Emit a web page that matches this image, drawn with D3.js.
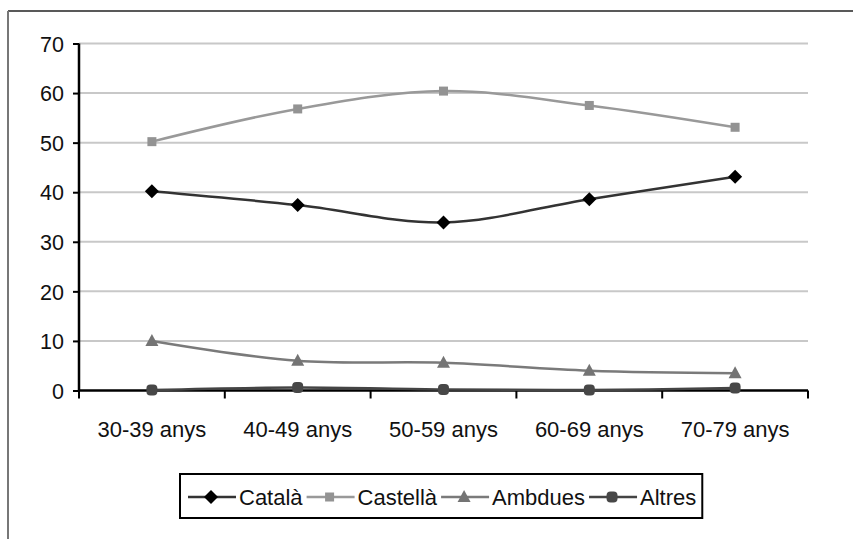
<!DOCTYPE html>
<html>
<head>
<meta charset="utf-8">
<script src="https://cdn.jsdelivr.net/npm/d3@7"></script>
<style>
  body { margin: 0; background: #fff; }
  svg text { font-family: "Liberation Sans", Arial, sans-serif; fill: #111; }
</style>
</head>
<body>
<svg id="chart" width="853" height="539"></svg>
<script>
// ── Data ──────────────────────────────────────────────────────────────────────
const categories = ['30-39 anys', '40-49 anys', '50-59 anys', '60-69 anys', '70-79 anys'];
const catala   = [40.2, 37.4, 33.9, 38.6, 43.1];
const castella = [50.2, 56.8, 60.4, 57.5, 53.1];
const ambdues  = [10.0, 6.0, 5.6, 4.0, 3.5];
const altres   = [0.1, 0.6, 0.2, 0.1, 0.5];
const yTicks   = [0, 10, 20, 30, 40, 50, 60, 70];

const series = [
  { name: 'Català',   values: catala,   line: '#333', fill: '#000', shape: 'diamond' },
  { name: 'Castellà', values: castella, line: '#999', fill: '#939393', shape: 'square' },
  { name: 'Ambdues',  values: ambdues,  line: '#7a7a7a', fill: '#747474', shape: 'triangle' },
  { name: 'Altres',   values: altres,   line: '#444', fill: '#474747', shape: 'circle' }
];

// ── Setup ─────────────────────────────────────────────────────────────────────
const svg = d3.select('#chart');
const mLeft = 79, mRight = 808, mTop = 43.5, mBottom = 390.5;

const x = d3.scaleBand().domain(categories).range([mLeft, mRight]);
const y = d3.scaleLinear().domain([0, 70]).range([mBottom, mTop]);

// outer frame (top and left edges only)
svg.append('line').attr('x1', 8).attr('x2', 853).attr('y1', 11).attr('y2', 11)
  .style('stroke', '#222').style('stroke-width', 1.5);
svg.append('line').attr('x1', 8).attr('x2', 8).attr('y1', 11).attr('y2', 539)
  .style('stroke', '#777').style('stroke-width', 2);

// gridlines
svg.append('g').selectAll('line')
  .data(yTicks.filter(d => d > 0))
  .join('line')
  .attr('x1', mLeft).attr('x2', mRight)
  .attr('y1', d => y(d)).attr('y2', d => y(d))
  .style('stroke', '#c8c8c8').style('stroke-width', 2);

// y axis
const yAxis = svg.append('g')
  .attr('transform', `translate(${mLeft},0)`)
  .call(d3.axisLeft(y).tickValues(yTicks).tickSize(6).tickPadding(9));
yAxis.select('.domain').attr('d', `M0,${mTop}V${mBottom}`).style('stroke', '#000').style('stroke-width', 2.5);
yAxis.selectAll('.tick line').style('stroke', '#000').style('stroke-width', 2);
yAxis.selectAll('.tick text').style('font-size', '21.5px').attr('dy', '0.36em');

// x axis
const xAxis = svg.append('g')
  .attr('transform', `translate(0,${mBottom})`)
  .call(d3.axisBottom(x).tickSize(0).tickPadding(31));
xAxis.select('.domain').attr('d', `M${mLeft},0H${mRight}`).style('stroke', '#000').style('stroke-width', 2.5);
xAxis.selectAll('.tick text').style('font-size', '22px');
svg.append('g').selectAll('line')
  .data(d3.range(categories.length + 1))
  .join('line')
  .attr('x1', i => mLeft + i * x.step()).attr('x2', i => mLeft + i * x.step())
  .attr('y1', mBottom).attr('y2', mBottom + 8)
  .style('stroke', '#000').style('stroke-width', 2);

// ── Markers ───────────────────────────────────────────────────────────────────
function drawMarker(sel, shape, fill) {
  if (shape === 'diamond') {
    sel.append('path').attr('d', 'M0,-7L7,0L0,7L-7,0Z').style('fill', fill);
  } else if (shape === 'square') {
    sel.append('rect').attr('x', -4.5).attr('y', -4.5).attr('width', 9).attr('height', 9).style('fill', fill);
  } else if (shape === 'triangle') {
    sel.append('path').attr('d', 'M0,-7L6.5,5L-6.5,5Z').style('fill', fill);
  } else {
    sel.append('rect').attr('x', -5.5).attr('y', -5.5).attr('width', 11).attr('height', 11)
      .attr('rx', 4).style('fill', fill);
  }
}

// ── Series ────────────────────────────────────────────────────────────────────
const line = d3.line()
  .x((d, i) => x(categories[i]) + x.bandwidth() / 2)
  .y(d => y(d))
  .curve(d3.curveCardinal.tension(0));

series.forEach(s => {
  svg.append('path')
    .datum(s.values)
    .attr('d', line)
    .style('fill', 'none')
    .style('stroke', s.line)
    .style('stroke-width', 2.5);
  svg.append('g').selectAll('g')
    .data(s.values)
    .join('g')
    .attr('transform', (d, i) => `translate(${x(categories[i]) + x.bandwidth() / 2},${y(d)})`)
    .each(function() { drawMarker(d3.select(this), s.shape, s.fill); });
});

// ── Legend ────────────────────────────────────────────────────────────────────
const legend = svg.append('g');
const box = legend.append('rect')
  .attr('x', 180).attr('y', 474).attr('height', 44)
  .style('fill', '#fff').style('stroke', '#000').style('stroke-width', 2);

let lx = 188;
const ly = 497;
series.forEach(s => {
  legend.append('line').attr('x1', lx).attr('x2', lx + 48).attr('y1', ly).attr('y2', ly)
    .style('stroke', s.line).style('stroke-width', 2.5);
  const m = legend.append('g').attr('transform', `translate(${lx + 23},${ly})`);
  drawMarker(m, s.shape, s.fill);
  const t = legend.append('text').attr('x', lx + 51).attr('y', ly).attr('dy', '0.36em')
    .style('font-size', '22px').text(s.name);
  lx += 51 + t.node().getComputedTextLength() + 4;
});
box.attr('width', lx - 180 + 2);
</script>
</body>
</html>
